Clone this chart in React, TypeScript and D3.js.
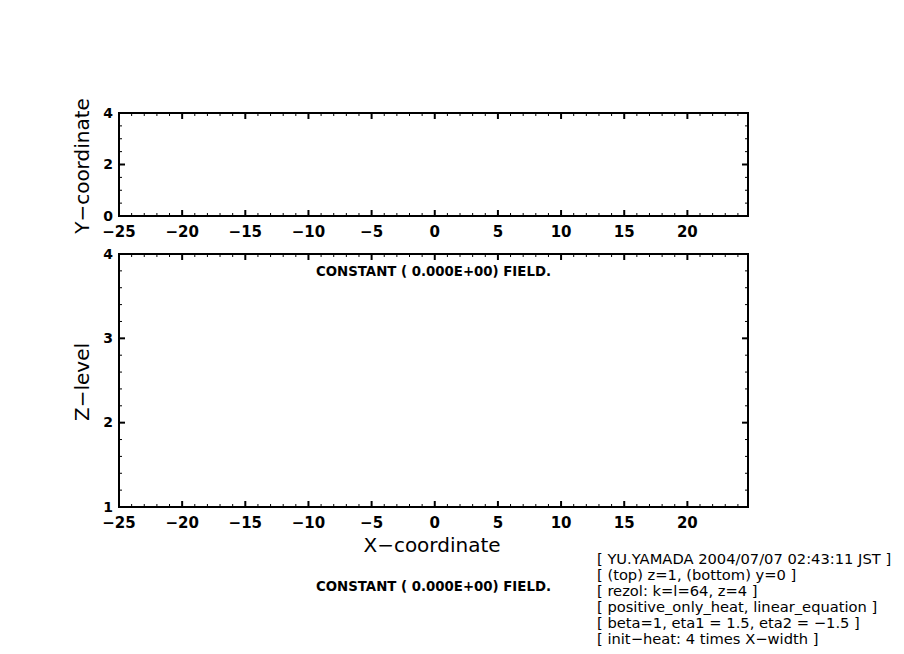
import * as d3 from "d3";

// axis values
const xTicks = [-25, -20, -15, -10, -5, 0, 5, 10, 15, 20];
const xDomain = [-25, 24.8];
const yTicks = [0, 2, 4];
const yDomain = [0, 4];
const zTicks = [1, 2, 3, 4];
const zDomain = [1, 4];

const fieldLabel = "CONSTANT ( 0.000E+00) FIELD.";
const infoLines = [
  "[ YU.YAMADA 2004/07/07 02:43:11 JST ]",
  "[ (top) z=1, (bottom) y=0 ]",
  "[ rezol: k=l=64, z=4 ]",
  "[ positive_only_heat, linear_equation ]",
  "[ beta=1, eta1 = 1.5, eta2 = \u22121.5 ]",
  "[ init\u2212heat: 4 times X\u2212width ]",
];

const W = 904;
const H = 654;
const left = 119;
const right = 748;
const tickFont = "DejaVu Sans, sans-serif";

const fmt = (v: number) => (v < 0 ? "\u2212" + Math.abs(v) : `${v}`);

interface PanelProps {
  top: number;
  bottom: number;
  yDom: number[];
  yMajor: number[];
  yMinorStep: number;
}

const Panel = ({ top, bottom, yDom, yMajor, yMinorStep }: PanelProps) => {
  const x = d3.scaleLinear().domain(xDomain).range([left, right]);
  const y = d3.scaleLinear().domain(yDom).range([bottom, top]);

  const xMinor = d3.range(xDomain[0], xDomain[1], 1).filter((v) => !xTicks.includes(v));
  const yMinor = d3
    .range(yDom[0], yDom[1] + 1e-9, yMinorStep)
    .map((v) => +v.toFixed(4))
    .filter((v) => !yMajor.includes(v));

  return (
    <g>
      {/* minor ticks */}
      <g stroke="black" strokeWidth={1}>
        {xMinor.map((v) => (
          <g key={`xm${v}`}>
            <line x1={x(v)} x2={x(v)} y1={bottom} y2={bottom - 3} />
            <line x1={x(v)} x2={x(v)} y1={top} y2={top + 3} />
          </g>
        ))}
        {yMinor.map((v) => (
          <g key={`ym${v}`}>
            <line x1={left} x2={left + 3} y1={y(v)} y2={y(v)} />
            <line x1={right} x2={right - 3} y1={y(v)} y2={y(v)} />
          </g>
        ))}
      </g>
      {/* major ticks */}
      <g stroke="black" strokeWidth={2}>
        {xTicks.map((v) => (
          <g key={`xM${v}`}>
            <line x1={x(v)} x2={x(v)} y1={bottom} y2={bottom - 6} />
            <line x1={x(v)} x2={x(v)} y1={top} y2={top + 6} />
          </g>
        ))}
        {yMajor.map((v) => (
          <g key={`yM${v}`}>
            <line x1={left} x2={left + 6} y1={y(v)} y2={y(v)} />
            <line x1={right} x2={right - 6} y1={y(v)} y2={y(v)} />
          </g>
        ))}
      </g>
      {/* frame */}
      <rect x={left} y={top} width={right - left} height={bottom - top} fill="none" stroke="black" strokeWidth={2} />
      {/* tick labels */}
      <g fontFamily={tickFont} fontWeight="bold" fill="black">
        {xTicks.map((v) => (
          <text key={`xl${v}`} x={x(v)} y={bottom + 21} fontSize={15} textAnchor="middle">
            {fmt(v)}
          </text>
        ))}
        {yMajor.map((v) => (
          <text key={`yl${v}`} x={left - 6} y={y(v) + 4.5} fontSize={14} textAnchor="end">
            {fmt(v)}
          </text>
        ))}
      </g>
    </g>
  );
};

export default function App() {
  return (
    <svg width={W} height={H} style={{ position: "absolute", left: 0, top: 0, background: "white" }}>
      <rect width={W} height={H} fill="white" />
      <Panel top={113} bottom={216} yDom={yDomain} yMajor={yTicks} yMinorStep={0.5} />
      <Panel top={254} bottom={507} yDom={zDomain} yMajor={zTicks} yMinorStep={0.2} />

      <g fontFamily={tickFont} fill="black">
        <text x={432} y={552} fontSize={20} textAnchor="middle">X{"\u2212"}coordinate</text>
        <text transform="translate(89,166) rotate(-90)" fontSize={20} textAnchor="middle">
          Y{"\u2212"}coordinate
        </text>
        <text transform="translate(89,382) rotate(-90)" fontSize={20} textAnchor="middle">
          Z{"\u2212"}level
        </text>
        <text x={316} y={276} fontSize={14} fontWeight="bold" textLength={235} lengthAdjust="spacingAndGlyphs">
          {fieldLabel}
        </text>
        <text x={316} y={591} fontSize={14} fontWeight="bold" textLength={235} lengthAdjust="spacingAndGlyphs">
          {fieldLabel}
        </text>
        {infoLines.map((s, i) => (
          <text key={i} x={597} y={564 + i * 16} fontSize={14.7}>
            {s}
          </text>
        ))}
      </g>
    </svg>
  );
}
